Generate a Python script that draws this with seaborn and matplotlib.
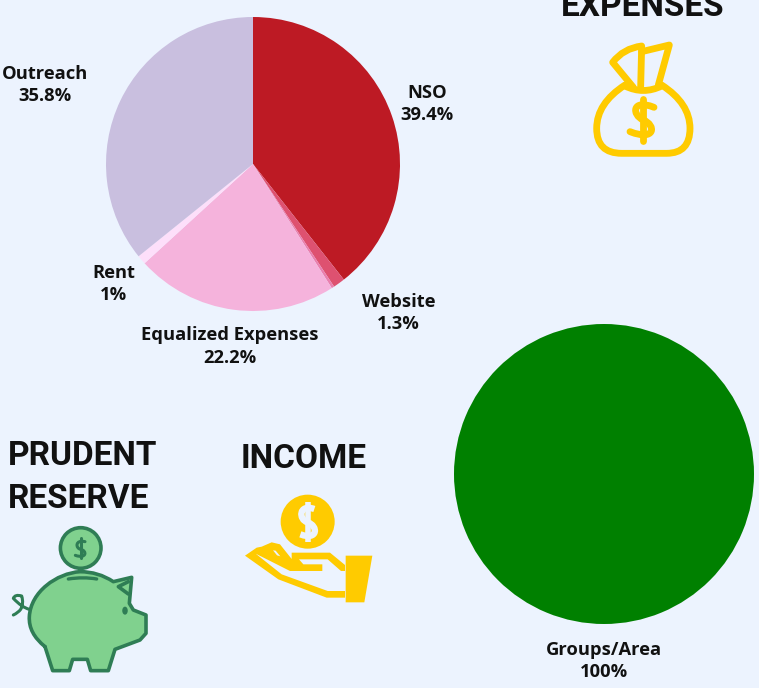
import numpy as np
import matplotlib
matplotlib.use("Agg")
import matplotlib.pyplot as plt
from matplotlib.path import Path
from matplotlib.patches import PathPatch, Circle, Ellipse, Polygon
import seaborn as sns

# ---- data ----
expense_labels = ["NSO", "Website", "Other", "Equalized Expenses", "Rent", "Outreach"]
expense_values = [39.4, 1.3, 0.3, 22.2, 1.0, 35.8]
expense_shown = ["39.4%", "1.3%", "", "22.2%", "1%", "35.8%"]
income_labels = ["Groups/Area"]
income_values = [100]
expense_colors = ["#bd1a24", "#de5170", "#ea7fae", "#f5b3dc", "#fddffa", "#c9bfdf"]
income_colors = ["#008000"]

BG = "#ecf3fe"
YEL = "#ffcb00"
GRN = "#80d18e"
DGR = "#2f7d55"
W, H = 759, 688

sns.set_theme(style="white")
plt.rcParams["font.family"] = ["Open Sans", "DejaVu Sans"]
fig = plt.figure(figsize=(W / 100, H / 100), dpi=100, facecolor=BG)


def axes_px(cx, cy, r):
    return fig.add_axes([(cx - r) / W, 1 - (cy + r) / H, 2 * r / W, 2 * r / H])


# pies
ax1 = axes_px(253, 164, 147)
ax1.pie(expense_values, colors=expense_colors, startangle=90, counterclock=False,
        radius=1, wedgeprops=dict(linewidth=0))
ax1.set(xlim=(-1, 1), ylim=(-1, 1))
ax1.axis("off")
ax2 = axes_px(604, 474, 150)
ax2.pie(income_values, colors=income_colors, startangle=90, counterclock=False,
        radius=1, wedgeprops=dict(linewidth=0))
ax2.set(xlim=(-1, 1), ylim=(-1, 1))
ax2.axis("off")

# overlay in pixel space for icons and text
ov = fig.add_axes([0, 0, 1, 1], facecolor="none")
ov.set(xlim=(0, W), ylim=(H, 0))
ov.axis("off")


def lab(x, y, name, val):
    ov.text(x, y, f"{name}\n{val}", ha="center", va="center", fontsize=13.2,
            fontweight="bold", color="#111111", linespacing=1.32)


label_pos = {"NSO": (427, 104), "Website": (398.5, 313), "Equalized Expenses": (229.5, 346.5),
             "Rent": (113.5, 284), "Outreach": (45, 85)}
for n, v in zip(expense_labels, expense_shown):
    if n in label_pos:
        lab(*label_pos[n], n, v)
lab(604, 661, income_labels[0], f"{income_values[0]}%")

title_kw = dict(va="center", fontsize=24, fontweight="bold", color="#111111", linespacing=1.46,
                family=["Roboto", "DejaVu Sans"])
ov.text(643, 7, "EXPENSES", ha="center", **title_kw)
ov.text(8, 477.5, "PRUDENT\nRESERVE", ha="left", **title_kw)
ov.text(304, 459, "INCOME", ha="center", fontstretch="normal", **title_kw)


def curve(pts, codes_str, ox, oy, k=3.0, **kw):
    """pts given in zoom space; codes_str: M L Q(2 pts) C(3 pts)."""
    verts, codes = [], []
    i = 0
    for c in codes_str:
        n = {"M": 1, "L": 1, "Q": 2, "C": 3}[c]
        code = {"M": Path.MOVETO, "L": Path.LINETO, "Q": Path.CURVE3, "C": Path.CURVE4}[c]
        for p in pts[i:i + n]:
            verts.append((ox + p[0] / k, oy + p[1] / k))
            codes.append(code)
        i += n
    kw.setdefault("capstyle", "round")
    kw.setdefault("joinstyle", "round")
    ov.add_patch(PathPatch(Path(verts, codes), **kw))


# ---- money bag ----
bag = dict(fc="none", ec=YEL, lw=4.9)
ox, oy = 580, 0
curve([(135, 255), (50, 310), (50, 385), (50, 460), (125, 460), (260, 460), (330, 460), (330, 385),
       (330, 310), (245, 255)], "MQQLQQ", ox, oy, **bag)
curve([(135, 258), (190, 285), (245, 258)], "MQ", ox, oy, **bag)
curve([(160, 262), (98, 187), (130, 145), (185, 138), (182, 260)], "MLQL", ox, oy, **bag)
curve([(185, 155), (268, 135), (235, 255)], "MLL", ox, oy, **bag)
curve([(222, 322), (155, 295), (155, 345), (190, 360), (228, 375), (228, 425), (150, 395)], "MCC", ox, oy, **bag)
curve([(188, 296), (188, 424)], "ML", ox, oy, **bag)

# ---- piggy bank ----
ox, oy = 0, 520
ov.add_patch(Circle((80.7, 548), 20.3, fc=GRN, ec=DGR, lw=2.6))
pig = [(135, 380), (85, 340), (88, 290), (92, 215), (170, 160), (240, 155), (295, 155), (340, 185),
       (395, 172), (388, 250), (400, 270), (438, 285), (438, 340), (420, 360), (345, 388), (325, 452),
       (272, 452), (262, 418), (218, 418), (208, 452), (158, 452), (135, 380)]
curve(pig, "MQCQ" + "L" * 14, ox, oy, fc=GRN, ec=DGR, lw=2.6)
curve([(385, 185), (355, 200), (385, 222)], "MLL", ox, oy, fc="none", ec=DGR, lw=2.6)
ov.add_patch(Ellipse((375 / 3, 520 + 272 / 3), 5.5, 8, fc=DGR, ec="none"))
curve([(205, 177), (250, 170), (290, 177)], "MQ", ox, oy, fc="none", ec=DGR, lw=2.4)
curve([(88, 268), (65, 262), (40, 235), (45, 222), (65, 228), (72, 250), (62, 268), (55, 278), (40, 285)],
      "MQQQQ", ox, oy, fc="none", ec=DGR, lw=2.2)
curve([(255, 65), (225, 58), (226, 85), (242, 88), (262, 92), (260, 118), (226, 106)], "MCC", ox, oy,
      fc="none", ec=DGR, lw=2.2)
curve([(242, 55), (242, 115)], "ML", ox, oy, fc="none", ec=DGR, lw=2.2)

# ---- hand with coin ----
ox, oy = 235, 485
ov.add_patch(Circle((ox + 218 / 3, oy + 110 / 3), 27, fc=YEL, ec="none"))
curve([(238, 72), (190, 55), (190, 105), (218, 112), (250, 122), (250, 168), (196, 148)], "MCC", ox, oy,
      fc="none", ec=BG, lw=4.6, capstyle="butt")
curve([(218, 52), (218, 172)], "ML", ox, oy, fc="none", ec=BG, lw=4.0, capstyle="butt")
ov.add_patch(Polygon([(ox + a / 3, oy + b / 3) for a, b in [(332, 212), (412, 212), (388, 352), (332, 352)]],
                     fc=YEL, ec="none"))
hand = [(30, 212), (65, 188), (80, 185), (110, 172), (135, 178), (170, 222), (170, 203), (285, 203),
        (330, 240), (330, 258), (318, 258), (278, 223), (192, 223), (205, 238), (262, 238), (262, 258),
        (165, 258), (62, 206), (140, 268), (278, 318), (330, 318), (330, 338), (275, 338), (130, 283)]
ov.add_patch(Polygon([(ox + a / 3, oy + b / 3) for a, b in hand], fc=YEL, ec="none"))
ov.add_patch(Polygon([(ox + a / 3, oy + b / 3) for a, b in [(114, 196), (122, 197), (136, 214), (126, 211)]],
                     fc=BG, ec="none"))

fig.savefig("out.png", dpi=100, facecolor=BG)
